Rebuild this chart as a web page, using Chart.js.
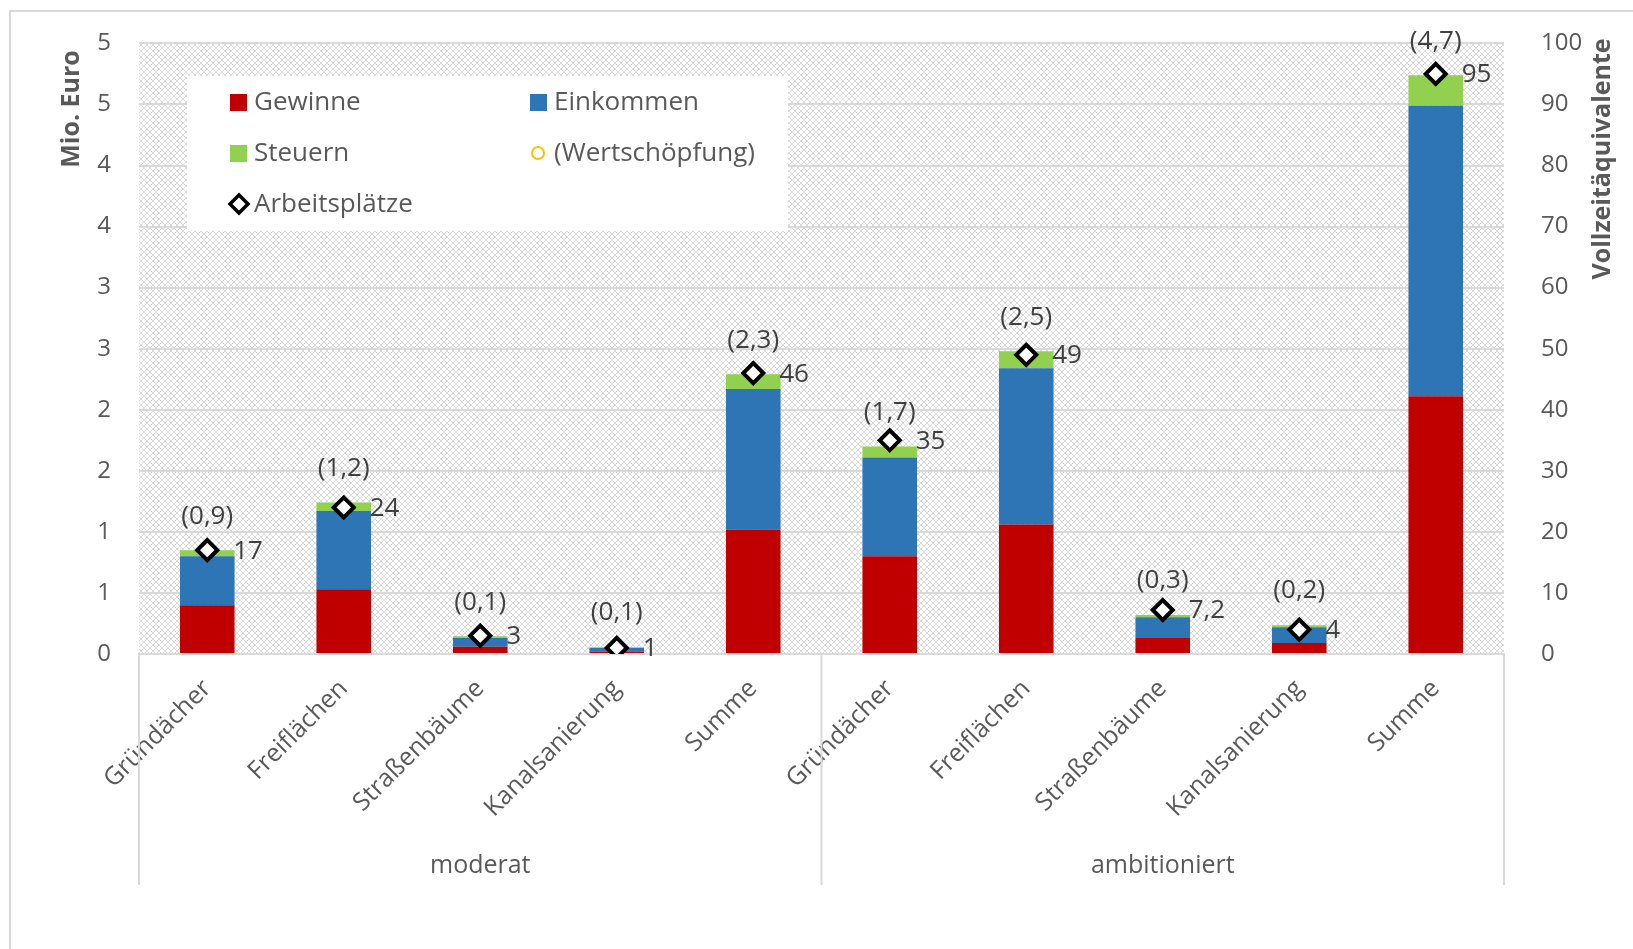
<!DOCTYPE html>
<html lang="de">
<head>
<meta charset="utf-8">
<title>Wertschöpfung und Arbeitsplätze</title>
<script src="https://cdn.jsdelivr.net/npm/chart.js@4.4.0/dist/chart.umd.min.js"></script>
<style>
  html, body { margin: 0; padding: 0; background: #fff; }
</style>
</head>
<body>
<canvas id="chart" width="1633" height="949"></canvas>
<script>
const categories = ["Gründächer", "Freiflächen", "Straßenbäume", "Kanalsanierung", "Summe",
                    "Gründächer", "Freiflächen", "Straßenbäume", "Kanalsanierung", "Summe"];
const groups = ["moderat", "ambitioniert"];

// Mio. Euro
const gewinne = [0.40, 0.53, 0.06, 0.02, 1.02, 0.80, 1.06, 0.13, 0.09, 2.11];
const einkommen = [0.40, 0.64, 0.07, 0.03, 1.15, 0.81, 1.28, 0.17, 0.13, 2.38];
const steuern = [0.05, 0.07, 0.015, 0.005, 0.12, 0.09, 0.14, 0.02, 0.015, 0.25];
const wertschoepfung = [0.85, 1.24, 0.14, 0.06, 2.29, 1.70, 2.48, 0.32, 0.24, 4.74];
// Vollzeitäquivalente
const arbeitsplaetze = [17, 24, 3, 1, 46, 35, 49, 7.2, 4, 95];

const euroTicks = ["0", "1", "1", "2", "2", "3", "3", "4", "4", "5", "5"];

const FONT = "'Open Sans', 'DejaVu Sans', sans-serif";
const GREY = "#595959";
const DARK = "#404040";

const fmt = v => String(v).replace(".", ",");
const fmt1 = v => "(" + (Math.round(v * 10 + 1e-9) / 10).toFixed(1).replace(".", ",") + ")";

function hatchPattern(ctx) {
  const c = document.createElement("canvas");
  c.width = 6; c.height = 6;
  const g = c.getContext("2d");
  g.fillStyle = "#ffffff";
  g.fillRect(0, 0, 6, 6);
  g.strokeStyle = "#dadada";
  g.lineWidth = 1;
  g.beginPath();
  g.moveTo(0, 0); g.lineTo(6, 6);
  g.moveTo(6, 0); g.lineTo(0, 6);
  g.stroke();
  return ctx.createPattern(c, "repeat");
}

// hatched plot background, frame, legend box, labels, group axis
const decorations = {
  id: "decorations",
  beforeDraw(chart) {
    const { ctx, chartArea: a } = chart;
    ctx.save();
    ctx.fillStyle = hatchPattern(ctx);
    ctx.fillRect(a.left, a.top, a.right - a.left, a.bottom - a.top);
    ctx.strokeStyle = "#d9d9d9";
    ctx.lineWidth = 2;
    ctx.beginPath();
    ctx.moveTo(1633, 11);
    ctx.lineTo(10, 11);
    ctx.lineTo(10, 949);
    ctx.stroke();
    ctx.restore();
  },
  beforeDatasetsDraw(chart) {
    const { ctx } = chart;
    ctx.save();
    ctx.fillStyle = "#ffffff";
    ctx.fillRect(187, 76, 601, 155);
    ctx.font = "26px " + FONT;
    ctx.fillStyle = GREY;
    ctx.textBaseline = "middle";
    const items = [
      { x: 230, y: 102, label: "Gewinne", kind: "box", color: "#C00000" },
      { x: 530, y: 102, label: "Einkommen", kind: "box", color: "#2E75B6" },
      { x: 230, y: 153, label: "Steuern", kind: "box", color: "#92D050" },
      { x: 530, y: 153, label: "(Wertschöpfung)", kind: "circle", color: "#FFC000" },
      { x: 230, y: 204, label: "Arbeitsplätze", kind: "diamond", color: "#000000" }
    ];
    items.forEach(it => {
      if (it.kind === "box") {
        ctx.fillStyle = it.color;
        ctx.fillRect(it.x, it.y - 8, 17, 17);
      } else if (it.kind === "circle") {
        ctx.strokeStyle = it.color;
        ctx.lineWidth = 2;
        ctx.beginPath();
        ctx.arc(it.x + 8, it.y, 6, 0, Math.PI * 2);
        ctx.stroke();
      } else {
        ctx.strokeStyle = it.color;
        ctx.fillStyle = "#fff";
        ctx.lineWidth = 3.5;
        ctx.beginPath();
        ctx.moveTo(it.x + 9, it.y - 9);
        ctx.lineTo(it.x + 18, it.y);
        ctx.lineTo(it.x + 9, it.y + 9);
        ctx.lineTo(it.x, it.y);
        ctx.closePath();
        ctx.fill();
        ctx.stroke();
      }
      ctx.fillStyle = GREY;
      ctx.textAlign = "left";
      ctx.fillText(it.label, it.x + 24, it.y + 1);
    });
    ctx.restore();
  },
  afterDraw(chart) {
    const { ctx, chartArea: a, scales } = chart;
    ctx.save();

    // value labels
    ctx.font = "26px " + FONT;
    ctx.fillStyle = DARK;
    ctx.textBaseline = "middle";
    const wsMeta = chart.getDatasetMeta(3);
    wsMeta.data.forEach((pt, i) => {
      ctx.textAlign = "center";
      ctx.fillText(fmt1(wertschoepfung[i]), pt.x, pt.y - 34);
    });
    const apMeta = chart.getDatasetMeta(4);
    apMeta.data.forEach((pt, i) => {
      ctx.textAlign = "left";
      ctx.fillText(fmt(arbeitsplaetze[i]), pt.x + 26, pt.y + 1);
    });

    // group axis below the categories
    const x = scales.x;
    const mid = x.getPixelForValue(4.5);
    ctx.strokeStyle = "#d9d9d9";
    ctx.lineWidth = 2;
    ctx.beginPath();
    [a.left, mid, a.right].forEach(px => {
      ctx.moveTo(px, a.bottom);
      ctx.lineTo(px, 885);
    });
    ctx.stroke();
    ctx.font = "25px " + FONT;
    ctx.fillStyle = GREY;
    ctx.textAlign = "center";
    ctx.fillText(groups[0], (a.left + mid) / 2, 866);
    ctx.fillText(groups[1], (mid + a.right) / 2, 866);

    // axis titles
    ctx.font = "bold 25px " + FONT;
    ctx.translate(72, 109);
    ctx.rotate(-Math.PI / 2);
    ctx.fillText("Mio. Euro", 0, 0);
    ctx.setTransform(1, 0, 0, 1, 0, 0);
    ctx.translate(1603, 159);
    ctx.rotate(-Math.PI / 2);
    ctx.fillText("Vollzeitäquivalente", 0, 0);
    ctx.restore();
  }
};

const tickFont = { family: FONT, size: 24 };

new Chart(document.getElementById("chart"), {
  type: "bar",
  data: {
    labels: categories,
    datasets: [
      { label: "Gewinne", data: gewinne, backgroundColor: "#C00000", yAxisID: "y", order: 2 },
      { label: "Einkommen", data: einkommen, backgroundColor: "#2E75B6", yAxisID: "y", order: 2 },
      { label: "Steuern", data: steuern, backgroundColor: "#92D050", yAxisID: "y", order: 2 },
      {
        type: "line", label: "(Wertschöpfung)", data: wertschoepfung, yAxisID: "y", stack: "ws",
        showLine: false, pointRadius: 4.5, pointBorderWidth: 2, pointBorderColor: "#FFC000",
        pointBackgroundColor: "rgba(0,0,0,0)", order: 1
      },
      {
        type: "line", label: "Arbeitsplätze", data: arbeitsplaetze, yAxisID: "y1",
        showLine: false, pointStyle: "rectRot", pointRadius: 10, pointBorderWidth: 4,
        pointBorderColor: "#000000", pointBackgroundColor: "#ffffff", order: 0
      }
    ]
  },
  options: {
    responsive: false,
    animation: false,
    layout: { padding: { top: 31, left: 0, right: 0, bottom: 0 } },
    datasets: { bar: { barPercentage: 0.4, categoryPercentage: 1.0 } },
    plugins: { legend: { display: false }, tooltip: { enabled: false } },
    scales: {
      x: {
        stacked: true,
        grid: { display: false },
        border: { color: "#d9d9d9", width: 2 },
        ticks: { minRotation: 45, maxRotation: 45, font: { family: FONT, size: 25 }, color: GREY, padding: 12 },
        afterFit: s => { s.height = 295; }
      },
      y: {
        stacked: true,
        position: "left",
        min: 0, max: 5,
        ticks: { stepSize: 0.5, callback: (v, i) => euroTicks[i], font: tickFont, color: GREY, padding: 28 },
        grid: { color: "#d9d9d9", lineWidth: 2, drawTicks: false },
        border: { display: false },
        afterFit: s => { s.width = 139; }
      },
      y1: {
        position: "right",
        min: 0, max: 100,
        ticks: { stepSize: 10, font: tickFont, color: GREY, padding: 29 },
        grid: { display: false },
        border: { display: false },
        afterFit: s => { s.width = 129; }
      }
    }
  },
  plugins: [decorations]
});
</script>
</body>
</html>
